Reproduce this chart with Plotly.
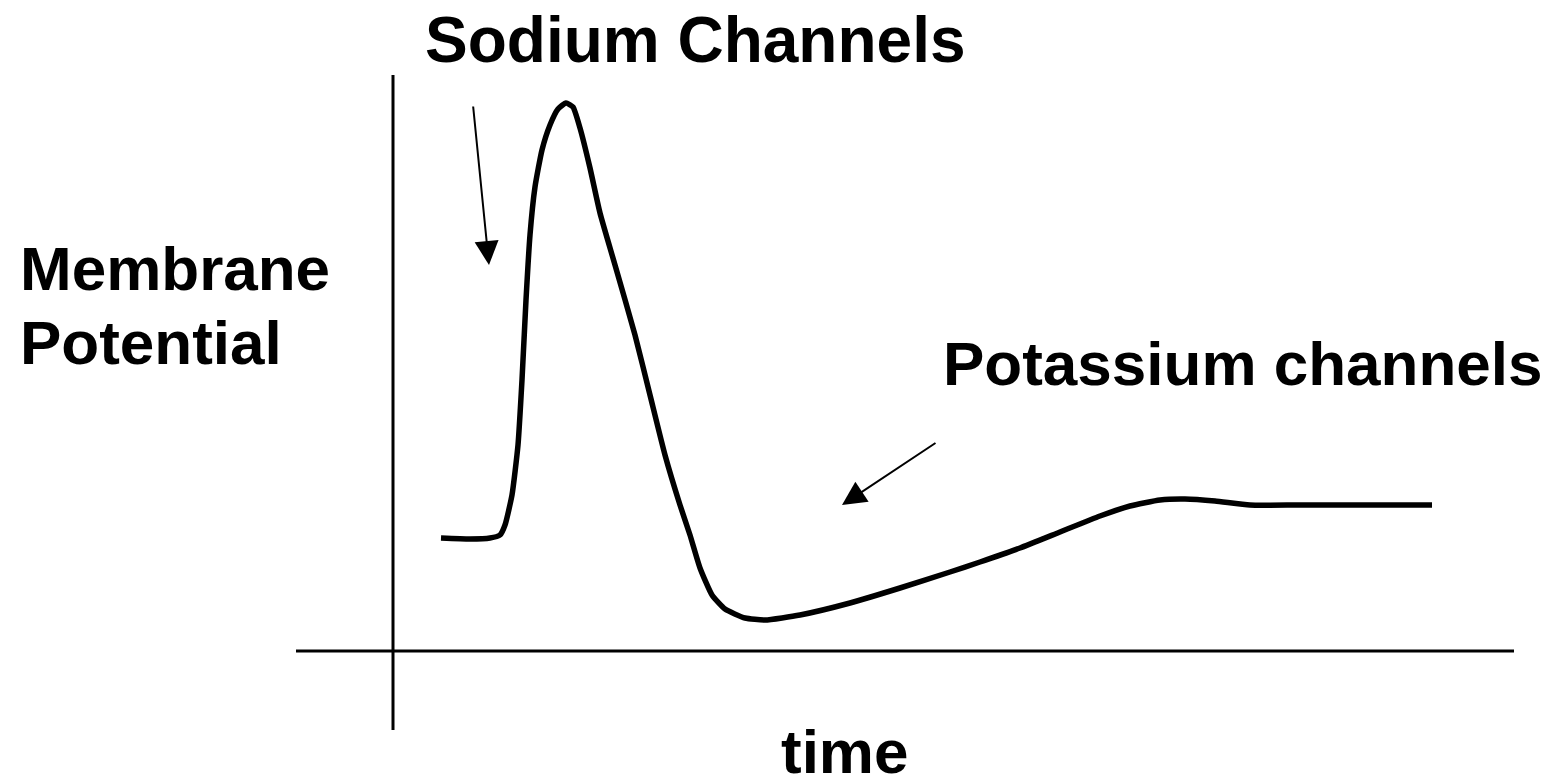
import plotly.graph_objects as go

# action potential trace (time, membrane potential)
time = [48, 77, 97, 107, 112, 119, 125, 129, 133, 137, 142, 149, 157, 165, 173,
        180, 187, 197, 207, 222, 242, 257, 272, 287, 297, 307, 319, 332, 352, 372,
        407, 457, 507, 557, 587, 627, 667, 707, 737, 767, 792, 822, 857, 907, 1039]
potential = [113, 112, 113, 116, 126, 156, 206, 271, 351, 416, 464, 501, 526, 542, 548,
             544, 523, 483, 438, 386, 316, 256, 196, 146, 116, 83, 56, 42, 33, 31,
             36, 48, 63, 79, 89, 103, 119, 135, 145, 151, 152, 150, 146, 146, 146]

# arrows: (tail x, tail y, head x, head y)
sodium_arrow = (80, 546, 96, 386)
potassium_arrow = (544, 209, 449, 146)

# axis line extents
x_axis_span = (-97, 1121)
y_axis_span = (-79, 576)

FONT = "Liberation Sans, Arial, sans-serif"

fig = go.Figure()

fig.add_trace(go.Scatter(
    x=time,
    y=potential,
    mode='lines',
    line={'color': 'black', 'width': 5.5, 'shape': 'spline', 'smoothing': 0.5},
    hoverinfo='skip',
    showlegend=False
))

# the two axis lines
fig.add_shape(type='line', x0=x_axis_span[0], x1=x_axis_span[1], y0=0, y1=0,
              line={'color': 'black', 'width': 3})
fig.add_shape(type='line', x0=0, x1=0, y0=y_axis_span[0], y1=y_axis_span[1],
              line={'color': 'black', 'width': 3})

for tx, ty, hx, hy in [sodium_arrow, potassium_arrow]:
    fig.add_annotation(x=hx, y=hy, ax=tx, ay=ty, xref='x', yref='y', axref='x', ayref='y',
                       text='', showarrow=True, arrowhead=2, arrowsize=2.4,
                       arrowwidth=2, arrowcolor='black')

labels = [
    ('Sodium Channels', 302, 611, 'center', 64),
    ('Membrane', -375, 383, 'left', 62),
    ('Potential', -375, 309, 'left', 62),
    ('Potassium channels', 548, 288, 'left', 62),
    ('time', 451, -100, 'center', 62),
]
for text, x, y, anchor, size in labels:
    fig.add_annotation(x=x, y=y, xref='x', yref='y', text='<b>%s</b>' % text,
                       showarrow=False, xanchor=anchor, yanchor='middle',
                       font={'family': FONT, 'size': size, 'color': 'black'})

fig.update_xaxes(range=[-393, 1171], visible=False)
fig.update_yaxes(range=[-131, 651], visible=False)
fig.update_layout(
    width=1564, height=782,
    margin={'l': 0, 'r': 0, 't': 0, 'b': 0},
    plot_bgcolor='white', paper_bgcolor='white'
)

# drop the page's default body margin so the figure fills the window
fig.write_html("out.html", config={'displayModeBar': False},
               post_script="document.body.style.margin='0';")
